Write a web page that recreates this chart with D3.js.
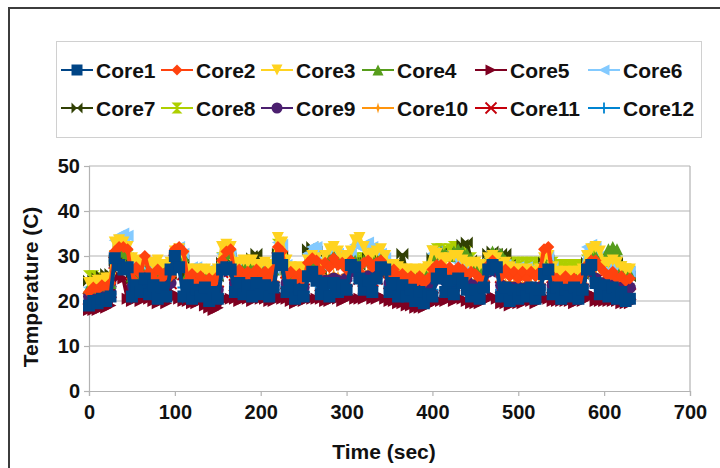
<!DOCTYPE html>
<html><head><meta charset="utf-8">
<script src="https://cdn.jsdelivr.net/npm/d3@7/dist/d3.min.js"></script>
<style>
body{margin:0;background:#fff;}
text{font-family:"Liberation Sans",Arial,sans-serif;font-weight:bold;fill:#111;}
</style></head><body>
<svg id="c" width="720" height="468"></svg>
<script>
const times = [0,5,10,15,20,25,30,35,40,45,50,55,60,65,70,75,80,85,90,95,100,105,110,115,120,125,130,135,140,145,150,155,160,165,170,175,180,185,190,195,200,205,210,215,220,225,230,235,240,245,250,255,260,265,270,275,280,285,290,295,300,305,310,315,320,325,330,335,340,345,350,355,360,365,370,375,380,385,390,395,400,405,410,415,420,425,430,435,440,445,450,455,460,465,470,475,480,485,490,495,500,505,510,515,520,525,530,535,540,545,550,555,560,565,570,575,580,585,590,595,600,605,610,615,620,625,630];

const seriesNames = ["Core1","Core2","Core3","Core4","Core5","Core6","Core7","Core8","Core9","Core10","Core11","Core12"];

const core1 = [19,20,19.5,20.5,20,21,29.5,28,27,27.5,
21,23.5,22,25,21.5,23.5,20.5,23,21,27,
30,27.5,21,23.5,20.5,22.5,21,23,20,22,
20.5,27,27.5,27,22,24,21.5,23.5,21,24,
21.5,23.5,21,23,29.5,28,22,23.5,20.5,22.5,
21,25.5,26.5,24.5,21.5,24,21,24,22,23.5,
22.5,28,27.5,25,22.5,24.5,22,25,27.5,27,
22,24,21,23.5,21,22.5,20,22,19.5,21.5,
21,25,26,22,24.5,21.5,25,24,22.5,21,
22.5,20.5,23,27,28,27.5,21,23,20,22.5,
20.5,22.5,21,23,20.5,22.5,26,27,21.5,23,
20.5,22.5,21,23,20.5,22.5,27,28,24,21.5,
23.5,21,23,20.5,22,20,20.5];

const core2 = [22,23,22.5,23.5,23,24,31,32,32,31.5,
25,27.5,26,30,26.5,25,27,25,26.5,25.5,
31.5,32,31,24.5,26,24,25.5,23.5,25,24,
25.5,29,31,31.5,25.5,27,25,26.5,25.5,27,
25,26.5,25,27,32,31,25.5,26.5,24.5,26,
24.5,28.5,29.5,29,26.5,28.5,27.5,29.5,28,28.5,
27,29,28,26.5,28.5,29,27.5,28.5,29,27.5,
25.5,27,25.5,26,24.5,25.5,24,25.5,24,25,
27,28,28,26.5,27.5,26,27.5,27,25.5,26.5,
26,25,24.5,28,29,28,25.5,27,25.5,26.5,
25,26.5,25,26.5,25.5,26.5,31.5,32,25.5,25,
24,25.5,24,25,24.5,25.5,28,29,29,27.5,
26.5,25.5,26.5,25,25.5,24.5,25];

const core3 = [24,24,24.5,24.5,25,25,33,33.5,33,32,
29.5,29,28.5,29,28.5,28,29,28,27.5,28.5,
31,31.5,30,27,26.5,27,26.5,27,26,26.5,
27,32,32.5,32,28,28.5,29,28.5,29,28,
28,28.5,27.5,28,34,33,29,27.5,27,27.5,
27,29,30,29.5,28,30,31.5,32,31,29.5,
30,31,33.5,34,32,30,30.5,31,31.5,30,
27.5,28,27.5,27,27,26.5,27,26.5,27,27.5,
31,30.5,29.5,29,29.5,30,30,29,28.5,28,
28.5,28,27.5,29.5,30,29.5,28,28.5,27.5,27,
27,26.5,27,26.5,26.5,27,29.5,30,27.5,26.5,
26,26.5,26,26.5,26.5,27,30,31.5,32,31,
28,28.5,29,28.5,27.5,27,27];

const core4 = [23,23,23.5,23.5,24,24,30,31,31,30.5,
25.5,26,27.5,29,26.5,26,26.5,27.5,26.5,27,
31,31,30,26,25.5,26,25.5,26,25.5,26,
26,29.5,30.5,30.5,27,27,27.5,28,28.5,27.5,
27,27,27,27,31.5,31,27,26,26,26.5,
26,28.5,29.5,29,27.5,29,29.5,30,29.5,28.5,
29,29.5,29,28.5,29,29.5,29,29,29.5,28.5,
27,27,26.5,26,26,25.5,26,25.5,26,26.5,
30,30.5,31,30.5,30,31,31.5,31,30.5,29.5,
28,27.5,27,30,31,30.5,30.5,29,27.5,27,
27,26.5,27,26.5,26.5,27,29,29.5,27,26,
25.5,26,25.5,26,26,26.5,29,30,30,29,
29,31.5,32,31.5,27,26.5,26];

const core5 = [18,18,18,18.5,18.5,19,25,25.5,25,20.5,
20,20.5,20,21,20.5,20,19.5,20,19.5,20.5,
21.5,20.5,20,20,19.5,19.5,20,19,18.5,18,
18.5,20,20.5,20.5,20.5,20,20.5,20.5,20,21,
20.5,20.5,20,20,21.5,20.5,20.5,20,19.5,20,
20,20.5,20.5,20.5,20.5,20,20,20.5,20.5,20,
20.5,21,20.5,20.5,20.5,21,20.5,20.5,21,20.5,
20,20,19.5,19.5,19,19,18.5,18.5,18.5,19,
19.5,20,20,20,20.5,20,20.5,20.5,20,19.5,
19.5,19.5,20,20.5,21,20.5,19.5,19.5,19,19.5,
19.5,19.5,20,20,19.5,20,20.5,20.5,20,20,
20,20,20,19.5,20,20,20.5,21.5,20,20,
20,20,20,20,19.5,19.5,19.5];

const core6 = [23,23,23.5,23.5,24,24,33.5,34.5,35,34.5,
28,27.5,27.5,28,27.5,27,27.5,27,26.5,27,
30,32,30.5,26.5,27.5,27.5,27,26.5,27,25.5,
26,30.5,31,30,27,27.5,27.5,28,28,27.5,
27.5,27,27,27,33,32.5,28,27,26.5,27,
27,30.5,32,32,28,30.5,31,31,30.5,29,
29.5,30.5,32.5,32,32.5,33,32,31,30.5,29.5,
27,27.5,27,26.5,26.5,26,26.5,26,26.5,27,
30.5,31,30,30,29.5,29.5,29,28.5,28,27.5,
28,27.5,27,28.5,29.5,29,27.5,28,27.5,27,
27.5,27,27.5,27,27,27.5,28.5,30,27.5,26.5,
26,26.5,26,26.5,26.5,27,32,32.5,32,30,
27.5,28,28,27.5,27,26.5,26.5];

const core7 = [24.5,24.5,25,25.5,26,26,29,30,30,29.5,
25,25.5,26,28,26,25,25.5,26,25.5,26,
29.5,30,29,25.5,25,25.5,25,25.5,25,25.5,
25.5,28.5,29.5,29.5,26.5,27,27.5,28,29.5,30.5,
27.5,27,27,27,30.5,30,27,26,25.5,26,
25.5,31.5,32,31,27,28.5,29,29.5,29,28,
28.5,29,28.5,28,28.5,29.5,29,28.5,29,28,
26.5,27,26.5,30.5,26,25.5,25.5,25,25.5,26,
29.5,31,30.5,30,29.5,30,30.5,32.5,33,29,
27.5,27,27,30.5,31,30.5,30.5,30.5,28,26.5,
26.5,26,26.5,26,26,26.5,28.5,29,26.5,25.5,
25,25.5,25,25.5,25.5,26,28.5,29.5,29,28.5,
28,29,29,28.5,26.5,26,25.5];

const core8 = [25.5,25.5,25,25,25,25,30,31,31,30,
26,26.5,27,28.5,27,26.5,27,27.5,27,27,
30,30.5,29.5,26,25.5,26,25.5,26,25.5,26,
26,29.5,30,30,27.5,27.5,28,28.5,29,28,
28,27.5,27.5,27.5,32.5,31,27.5,26.5,26,26.5,
26,29,30,29.5,27.5,29,30,30.5,30,28.5,
29,30,29.5,29,29.5,30,29.5,29.5,30,29,
27,27.5,27,26.5,26.5,26,26.5,26,26.5,27,
31,31.5,31.5,31,31.5,32,31.5,31.5,31,29.5,
28.5,28,27.5,29.5,29,28.5,28.5,28,28.5,28.5,
28.5,28.5,28.5,28.5,28.5,28.5,28.5,29,28.5,28,
28,28,28,28,28,27.5,29,30,29.5,28.5,
27.5,28.5,29,28.5,27.5,27,26.5];

const core9 = [21,21,21.5,21.5,22,22,28,28.5,28,27.5,
23,23.5,24,25.5,23.5,23,23,23.5,23,24,
28,28.5,27,23,22.5,23,22.5,22,22.5,22,
22.5,26.5,27.5,27.5,24,23.5,24,24,24,24.5,
23.5,23.5,23,23.5,29,28,24,23,22.5,23,
23,25.5,26.5,26,24,24.5,24.5,25,24.5,24,
25,27,26.5,25,25,25.5,25,25.5,27,26.5,
24,24,23.5,23.5,23,23,22.5,22.5,22.5,23,
24,25.5,25.5,24.5,24.5,24,25,25,24.5,23.5,
23.5,23,23,26.5,27,26.5,23.5,23,23,23,
23,22.5,23,23,22.5,23,26,27,23.5,23,
22.5,23,23,22.5,23,23,26.5,27.5,25,23.5,
24,23.5,23.5,23,23,23,23];

const core10 = [22,22,22.5,22.5,23,23,29.5,30,29.5,29,
24,24.5,25,27,24.5,24,24,24.5,24,25,
29.5,30,28.5,24,23.5,24,23.5,23,23.5,23,
23.5,28,29,29,25,24.5,25,25,25,25.5,
24.5,24.5,24,24.5,30.5,29.5,25,24,23.5,24,
24,27,28,27.5,25,25.5,25.5,26,25.5,25,
26,28.5,28,26.5,26,26.5,26,26.5,28.5,28,
25,25,24.5,24.5,24,24,23.5,23.5,23.5,24,
25,27,27,25.5,25.5,25,26,26.5,25.5,24.5,
24.5,24,24,28,28.5,28,24.5,24,24,24,
24,23.5,24,24,23.5,24,27.5,28.5,24.5,24,
23.5,24,24,23.5,24,24,28,29,26,24.5,
25,24.5,24.5,24,24,23.5,23.5];

const core11 = [20.5,20.5,21,21,21.5,22,28.5,29,28.5,28,
23,23,23.5,25.5,23,22.5,22.5,23,22.5,24,
29,28.5,26,22.5,22.5,22,22,21.5,22,21.5,
22,26.5,28,27.5,23.5,23,23.5,23.5,23.5,24,
23,23,22.5,23,29.5,29,24,22.5,22,22.5,
22.5,25.5,26.5,26,23.5,24,23.5,24.5,24,23.5,
24.5,28,27.5,25,24.5,25,24.5,25,28,27.5,
24,23.5,23,23.5,23,22.5,22,22,21.5,22,
23,25.5,26,23.5,24,23.5,24.5,25.5,24.5,22.5,
23,22.5,23,27,28.5,27.5,23,22.5,22,22.5,
22.5,22,22.5,22.5,22,22.5,26.5,27.5,23,22.5,
22,22.5,22.5,22,22.5,22.5,27,28.5,24.5,23,
23.5,23,22.5,22,22,21.5,21.5];

const core12 = [20,20,20.5,20.5,21,21.5,29,28.5,28,27.5,
22.5,23,23.5,25,23,22.5,22,22.5,22,26,
29.5,27.5,23,22,22.5,21.5,22,21,21.5,21,
21.5,26.5,27.5,27,23.5,22.5,23,23.5,23,23.5,
22.5,23,22.5,22.5,29,28.5,23.5,22,21.5,22.5,
22,25,26,25.5,23,23.5,22.5,24,23.5,23,
24.5,28,27.5,24.5,24,24.5,24,25,27.5,27,
23.5,23,22.5,23.5,23,22,21.5,21.5,21,21.5,
22.5,25,25.5,23,23.5,22.5,24.5,25,24,22,
22.5,22,22.5,27,28,27,22.5,22,21.5,22.5,
22,21.5,22.5,22,21.5,22.5,26,27,23,22,
21.5,22.5,22,21.5,22.5,22,27,28,24.5,22.5,
23.5,22.5,22,21.5,21.5,21,20.5];

const xTicks = [0,100,200,300,400,500,600,700];
const yTicks = [0,10,20,30,40,50];

const colors = ["#004586","#ff420e","#ffd320","#579d1c","#7e0021","#83caff","#314004","#aecf00","#4b1f6f","#ff950e","#c5000b","#0084d1"];
const seriesValues = [core1,core2,core3,core4,core5,core6,core7,core8,core9,core10,core11,core12];

const svg = d3.select("#c");
const x = d3.scaleLinear().domain([0,700]).range([89,690]);
const y = d3.scaleLinear().domain([0,50]).range([391,166]);

svg.append("path").attr("d","M9,468 L9,8 L720,8").attr("fill","none").attr("stroke","#3c3c3c").attr("stroke-width",2);

svg.append("g").selectAll("line").data(yTicks.filter(d=>d>0)).join("line")
  .attr("x1",89).attr("x2",690).attr("y1",d=>y(d)).attr("y2",d=>y(d))
  .attr("stroke","#b3b3b3").attr("stroke-width",1.2);
svg.append("line").attr("x1",690).attr("x2",690).attr("y1",166).attr("y2",391).attr("stroke","#b3b3b3").attr("stroke-width",1.2);

const gx = svg.append("g").attr("transform","translate(0,391)")
  .call(d3.axisBottom(x).tickValues(xTicks).tickSize(5).tickPadding(9).tickFormat(d3.format("d")));
const gy = svg.append("g").attr("transform","translate(89,0)")
  .call(d3.axisLeft(y).tickValues(yTicks).tickSize(5).tickPadding(4).tickFormat(d3.format("d")));
[gx,gy].forEach(g=>{
  g.select(".domain").attr("stroke","#b3b3b3").attr("stroke-width",1.2);
  g.selectAll(".tick line").attr("stroke","#b3b3b3").attr("stroke-width",1.2);
  g.selectAll(".tick text").attr("font-size",20).attr("font-family","Liberation Sans, Arial, sans-serif").attr("font-weight","bold").attr("fill","#111");
});

function sym(i,h){
  switch(i){
    case 0: return `M${-h},${-h}H${h}V${h}H${-h}Z`;
    case 1: return `M0,${-h}L${h},0L0,${h}L${-h},0Z`;
    case 2: return `M${-h},${-h}L${h},${-h}L0,${h}Z`;
    case 3: return `M0,${-h}L${h},${h}L${-h},${h}Z`;
    case 4: return `M${-h},${-h}L${h},0L${-h},${h}Z`;
    case 5: return `M${h},${-h}L${-h},0L${h},${h}Z`;
    case 6: return `M${-h},${-h}L${h},${h}L${h},${-h}L${-h},${h}Z`;
    case 7: return `M${-h},${-h}L${h},${-h}L${-h},${h}L${h},${h}Z`;
    case 8: return d3.symbol(d3.symbolCircle, Math.PI*h*h)();
    case 9: return `M0,${-h}L1.2,-1.2L${h},0L1.2,1.2L0,${h}L-1.2,1.2L${-h},0L-1.2,-1.2Z`;
    default: return null;
  }
}
function drawMarker(g,i,cx,cy,h){
  const c = colors[i];
  if(i===10){
    g.append("path").attr("d",`M${cx-h},${cy-h}L${cx+h},${cy+h}M${cx-h},${cy+h}L${cx+h},${cy-h}`).attr("stroke",c).attr("stroke-width",1.8).attr("fill","none");
  } else if(i===11){
    g.append("path").attr("d",`M${cx-h},${cy}L${cx+h},${cy}M${cx},${cy-h}L${cx},${cy+h}`).attr("stroke",c).attr("stroke-width",1.8).attr("fill","none");
  } else {
    g.append("path").attr("d",sym(i,h)).attr("transform",`translate(${cx},${cy})`).attr("fill",c);
  }
}

const plot = svg.append("g");
const line = d3.line().x((d,k)=>x(times[k])).y(d=>y(d));
for(let i=11;i>=0;i--){
  const g = plot.append("g");
  g.append("path").datum(seriesValues[i]).attr("d",line).attr("fill","none").attr("stroke",colors[i]).attr("stroke-width",4);
  seriesValues[i].forEach((v,k)=>drawMarker(g,i,x(times[k]),y(v),6));
}

svg.append("rect").attr("x",56.5).attr("y",41.5).attr("width",645).attr("height",96).attr("fill","#fff").attr("stroke","#d0d0d0").attr("stroke-width",1);
const colX = [96,196,296,397,510,623];
const rowY = [70,108];
seriesNames.forEach((n,i)=>{
  const tx = colX[i%6], cy = rowY[Math.floor(i/6)];
  const g = svg.append("g");
  g.append("line").attr("x1",tx-35).attr("x2",tx-3).attr("y1",cy).attr("y2",cy).attr("stroke",colors[i]).attr("stroke-width",2);
  drawMarker(g,i,tx-19,cy,5.5);
  g.append("text").attr("x",tx).attr("y",cy+7.5).attr("font-size",21).text(n);
});

svg.append("text").attr("x",384).attr("y",459).attr("text-anchor","middle").attr("font-size",21).text("Time (sec)");
svg.append("text").attr("transform","translate(38,287) rotate(-90)").attr("text-anchor","middle").attr("font-size",21).text("Temperature (C)");
</script>
</body></html>
